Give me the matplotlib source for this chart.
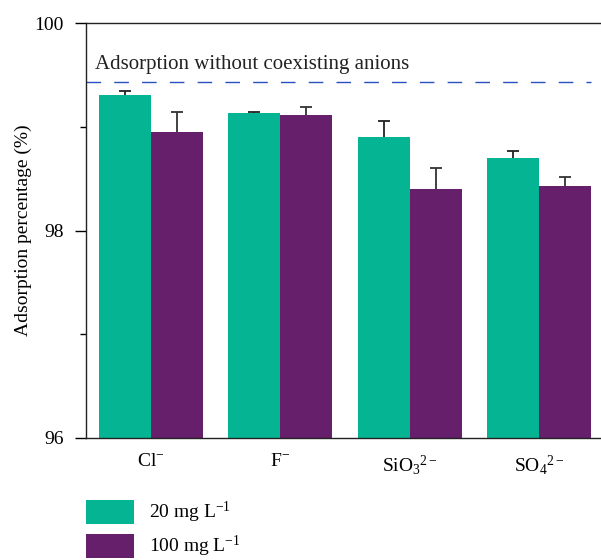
import matplotlib
matplotlib.use("Agg")
import matplotlib.pyplot as plt
import numpy as np
from matplotlib.patches import Patch

plt.rcParams['font.family'] = ['Liberation Serif', 'DejaVu Serif']
plt.rcParams['mathtext.fontset'] = 'custom'
plt.rcParams['mathtext.rm'] = 'Liberation Serif'
plt.rcParams['mathtext.it'] = 'Liberation Serif:italic'
plt.rcParams['mathtext.bf'] = 'Liberation Serif:bold'

anions = [r'Cl$^{-}$', r'F$^{-}$', r'SiO$_3$$^{2-}$', r'SO$_4$$^{2-}$']
low_conc = [99.31, 99.13, 98.90, 98.70]
low_err = [0.035, 0.015, 0.16, 0.065]
high_conc = [98.95, 99.11, 98.40, 98.43]
high_err = [0.19, 0.085, 0.20, 0.09]
baseline = 99.43
series_labels = [r'20 mg L$^{-1}$', r'100 mg L$^{-1}$']

green = '#05B493'
purple = '#651F6B'
fs = 14

fig = plt.figure(figsize=(6.01, 5.60), dpi=100)
ax = fig.add_axes([86 / 601, 1 - 438 / 560, 518 / 601, 415 / 560])

x = np.arange(len(anions))
w = 0.4
ax.bar(x - w / 2, low_conc, w, color=green, edgecolor='none', zorder=2)
ax.bar(x + w / 2, high_conc, w, color=purple, edgecolor='none', zorder=2)
# error bars sit behind the bars so only the upper half shows
ax.errorbar(x - w / 2, low_conc, yerr=low_err, fmt='none', ecolor='#222222',
            elinewidth=1.3, capthick=1.3, capsize=4, zorder=1)
ax.errorbar(x + w / 2, high_conc, yerr=high_err, fmt='none', ecolor='#333333',
            elinewidth=1.3, capthick=1.3, capsize=4, zorder=1)

ax.plot([-0.5, 3.4], [baseline, baseline], color='#2A4FBF', lw=1.0,
        dashes=(10.5, 9.5))
ax.text(-0.43, baseline + 0.075, 'Adsorption without coexisting anions',
        fontsize=15, color='#222222', va='bottom', ha='left')

ax.set_xlim(-0.5, 3.5)
ax.set_ylim(96, 100)
ax.set_yticks([96, 98, 100])
ax.set_yticks([97, 99], minor=True)
ax.set_xticks(x)
ax.set_xticklabels(anions, fontsize=fs)
ax.tick_params(axis='x', length=0, pad=11)
ax.tick_params(axis='y', which='major', length=8, width=1.0, labelsize=fs, pad=8)
ax.tick_params(axis='y', which='minor', length=4, width=1.0)
ax.set_ylabel('Adsorption percentage (%)', fontsize=fs, labelpad=2)

for s in ['left', 'top', 'bottom']:
    ax.spines[s].set_linewidth(1.0)
    ax.spines[s].set_color('#222222')
ax.spines['right'].set_visible(False)

handles = [Patch(facecolor=green, edgecolor='none'),
           Patch(facecolor=purple, edgecolor='none')]
fig.legend(handles, series_labels, loc='upper left',
           bbox_to_anchor=(86 / 601, 1 - 500 / 560), frameon=False,
           fontsize=fs, handlelength=2.47, handleheight=1.5,
           handletextpad=0.75, labelspacing=0.45, borderpad=0, borderaxespad=0)

fig.savefig('out.png', dpi=100)
